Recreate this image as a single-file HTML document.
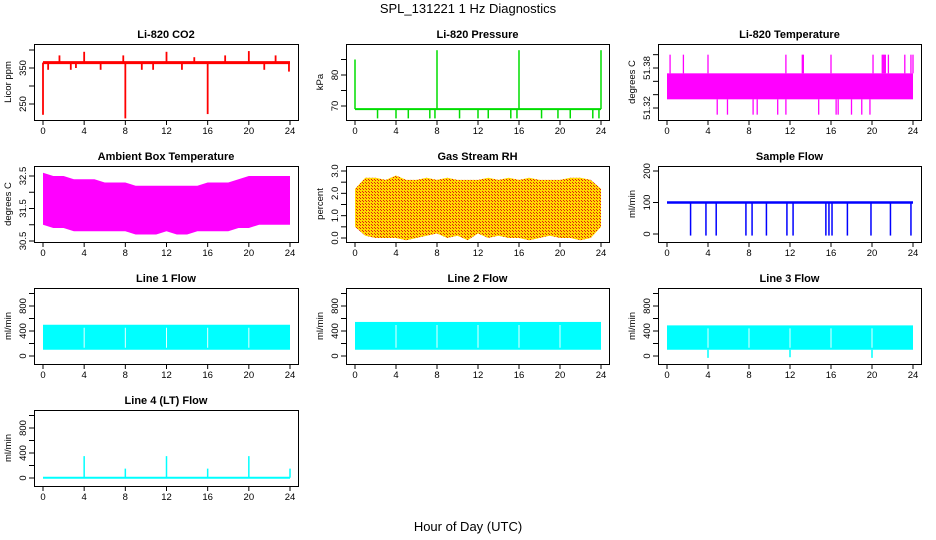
<!DOCTYPE html>
<html><head><meta charset="utf-8"><style>
body{margin:0;background:#fff;}
svg{display:block;font-family:"Liberation Sans",sans-serif;}
</style></head><body>
<svg id="c" width="936" height="540" xmlns="http://www.w3.org/2000/svg">
<defs>
<pattern id="rhpat" width="3" height="3" patternUnits="userSpaceOnUse"><rect width="3" height="3" fill="#ffd800"/><rect width="1" height="1" fill="#e02010"/><rect x="2" y="2" width="1" height="1" fill="#e02010"/></pattern>
</defs>
<text x="468" y="13" text-anchor="middle" font-size="13">SPL_131221  1 Hz Diagnostics</text>
<text x="468" y="531" text-anchor="middle" font-size="13">Hour of Day (UTC)</text>
</svg>
<script>
// ---- data ----
const hours = [0,4,8,12,16,20,24];
const co2Base = 365;
const co2Spikes = [[0,220],[8,210],[16,222],[4,395],[12,395],[20,397],[1.6,385],[0.5,345],[2.7,345],[5.6,345],[9.6,345],[13.5,345],[21.5,345],[23.9,340],[14.7,380],[17.7,385],[22.6,385],[7.8,385],[3.2,350],[10.7,345]];
const presBase = 69;
const presSpikes = [[0,85],[8,88],[16,88],[24,88],[2.2,66],[4,66],[5.2,66],[7.3,66],[7.8,66],[10.2,66],[12,66],[13,66],[15.2,66],[15.8,66],[18.2,66],[19.8,66],[21,66],[23.2,66],[23.8,66]];
const tempBand = [51.333,51.372];
const tempUp = [0.3,1.6,4,11.6,13.2,13.3,16,20.1,21,21.1,21.2,21.3,21.6,23.2,23.8,24];
const tempDown = [4.9,5.9,8.4,8.8,10.8,11.6,14.8,16.5,16.7,18,19,19.8];
const ambHi = [32.6,32.5,32.5,32.4,32.4,32.4,32.3,32.3,32.3,32.2,32.2,32.2,32.2,32.2,32.2,32.2,32.3,32.3,32.3,32.4,32.5,32.5,32.5,32.5,32.5];
const ambLo = [31.0,30.9,30.9,30.8,30.8,30.8,30.8,30.8,30.8,30.7,30.7,30.7,30.8,30.7,30.7,30.8,30.8,30.8,30.8,30.9,30.9,31.0,31.0,31.0,31.0];
const rhHi = [2.2,2.7,2.7,2.6,2.8,2.6,2.6,2.7,2.6,2.7,2.6,2.6,2.6,2.7,2.6,2.7,2.6,2.7,2.6,2.6,2.6,2.7,2.7,2.6,2.2];
const rhLo = [0.5,0.1,0.0,0.0,0.0,-0.1,0.0,0.1,0.2,0.0,0.1,-0.1,0.2,0.0,0.1,0.0,0.0,-0.1,0.0,0.1,0.0,0.0,-0.1,0.0,0.5];
const sfBase = 100;
const sfDips = [2.3,3.8,4.8,7.7,8.3,9.7,11.7,12.3,15.5,15.8,16.1,17.6,19.9,21.8,23.8];
const l1Band = [100,500], l2Band = [100,545], l3Band = [100,490];
const l3Dips = [[4,-30],[12,-20],[20,-30]];
const l4Base = 5;
const l4Spikes = [[4,350],[8,150],[12,350],[16,150],[20,350],[24,150]];

const svg = document.getElementById('c');
const NS = 'http://www.w3.org/2000/svg';
function mk(t, a, p){ const e=document.createElementNS(NS,t); for(const k in a) e.setAttribute(k,a[k]); (p||svg).appendChild(e); return e; }

const cols = [{x0:34,x1:298,h0:43,h24:290},{x0:346,x1:609,h0:355,h24:601},{x0:658,x1:921,h0:667,h24:913}];
const rows = [{y0:44,y1:120},{y0:166,y1:242},{y0:288,y1:364},{y0:410,y1:486}];

function panel(name,title,ci,ri,ylab,v1,p1,v2,p2,ticks,labels){
  const c=cols[ci], r=rows[ri];
  const g=mk('g',{});
  
  
  const X=h=>c.h0+(h/24)*(c.h24-c.h0);
  const Y=v=>p1+(v-v1)*(p2-p1)/(v2-v1);
  const clip=mk('clipPath',{id:'cl'+ci+ri},g); mk('rect',{x:c.x0,y:r.y0,width:c.x1-c.x0,height:r.y1-r.y0},clip);
  const plot=mk('g',{'clip-path':'url(#cl'+ci+ri+')'},g);
  mk('rect',{x:c.x0+.5,y:r.y0+.5,width:c.x1-c.x0,height:r.y1-r.y0,fill:'none',stroke:'#000'},g);
  const t=mk('text',{x:(c.x0+c.x1)/2,y:r.y0-6,'text-anchor':'middle','font-size':11,'font-weight':'bold'},g); t.textContent=title;
  
  
  hours.forEach(h=>{ const x=X(h);
    mk('line',{x1:x,x2:x,y1:r.y1,y2:r.y1+5,stroke:'#000'},g);
    const l=mk('text',{x:x,y:r.y1+14,'text-anchor':'middle','font-size':9.5},g); l.textContent=h;
    
    
  });
  ticks.forEach((v,i)=>{ const y=Y(v);
    mk('line',{x1:c.x0-5,x2:c.x0,y1:y,y2:y,stroke:'#000'},g);
    if(labels[i]){ const l=mk('text',{transform:`translate(${c.x0-8},${y}) rotate(-90)`,'text-anchor':'middle','font-size':9.5},g); l.textContent=labels[i];
      
       }
  });
  const yl=mk('text',{transform:`translate(${c.x0-23},${(r.y0+r.y1)/2}) rotate(-90)`,'text-anchor':'middle','font-size':9.5},g); yl.textContent=ylab;
  
  
  return {X,Y,plot};
}
function vline(p,x,ya,yb,col,w){ mk('line',{x1:x,x2:x,y1:ya,y2:yb,stroke:col,'stroke-width':w||1.2},p); }
function band(P,col,lo,hi){
  let pts=[]; hi.forEach((v,i)=>pts.push(P.X(i*24/(hi.length-1))+','+P.Y(v)));
  for(let i=lo.length-1;i>=0;i--) pts.push(P.X(i*24/(lo.length-1))+','+P.Y(lo[i]));
  mk('polygon',{points:pts.join(' '),fill:col},P.plot);
}

// CO2
let P=panel('panel-co2','Li-820 CO2',0,0,'Licor ppm',350,68,250,104,[250,300,350,400],['250','','350','']);
mk('line',{x1:P.X(0),x2:P.X(24),y1:P.Y(co2Base),y2:P.Y(co2Base),stroke:'red','stroke-width':3},P.plot);
co2Spikes.forEach(s=>vline(P.plot,P.X(s[0]),P.Y(co2Base),P.Y(s[1]),'red',1.8));
// Pressure
P=panel('panel-pressure','Li-820 Pressure',1,0,'kPa',80,75,70,106,[70,75,80,85],['70','','80','']);
mk('line',{x1:P.X(0),x2:P.X(24),y1:P.Y(presBase),y2:P.Y(presBase),stroke:'#00dd00','stroke-width':2},P.plot);
presSpikes.forEach(s=>vline(P.plot,P.X(s[0]),P.Y(presBase),P.Y(s[1]),'#00dd00',1.5));
// Temperature
P=panel('panel-licor-temp','Li-820 Temperature',2,0,'degrees C',51.38,68,51.32,108,[51.40,51.38,51.36,51.34,51.32],['','51.38','','','51.32']);
mk('rect',{x:P.X(0),y:P.Y(tempBand[1]),width:P.X(24)-P.X(0),height:P.Y(tempBand[0])-P.Y(tempBand[1]),fill:'#ff00ff'},P.plot);
tempUp.forEach(h=>vline(P.plot,P.X(h),P.Y(tempBand[1]),P.Y(51.40),'#ff00ff',1.3));
tempDown.forEach(h=>vline(P.plot,P.X(h),P.Y(tempBand[0]),P.Y(51.31),'#ff00ff',1.3));
// Ambient
P=panel('panel-ambient-temp','Ambient Box Temperature',0,1,'degrees C',32.5,176,30.5,241,[30.5,31,31.5,32,32.5],['30.5','','31.5','','32.5']);
band(P,'#ff00ff',ambLo,ambHi);
// RH
P=panel('panel-gas-rh','Gas Stream RH',1,1,'percent',3,171,0,238,[0,0.5,1,1.5,2,2.5,3],['0.0','','1.0','','2.0','','3.0']);
band(P,'url(#rhpat)',rhLo,rhHi);
// Sample flow
P=panel('panel-sample-flow','Sample Flow',2,1,'ml/min',200,171,0,234,[0,100,200],['0','100','200']);
mk('line',{x1:P.X(0),x2:P.X(24),y1:P.Y(sfBase),y2:P.Y(sfBase),stroke:'blue','stroke-width':2.5},P.plot);
sfDips.forEach(h=>vline(P.plot,P.X(h),P.Y(sfBase),P.Y(-5),'blue',1.5));
// Line flows
const lt=[0,200,400,600,800,1000], ll=['0','','400','','800',''];
[[0,'panel-line1-flow','Line 1 Flow',l1Band],[1,'panel-line2-flow','Line 2 Flow',l2Band],[2,'panel-line3-flow','Line 3 Flow',l3Band]].forEach(d=>{
  const Q=panel(d[1],d[2],d[0],2,'ml/min',0,356,800,306,lt,ll);
  mk('rect',{x:Q.X(0),y:Q.Y(d[3][1]),width:Q.X(24)-Q.X(0),height:Q.Y(d[3][0])-Q.Y(d[3][1]),fill:'cyan'},Q.plot);
  hours.slice(1,6).forEach(h=>vline(Q.plot,Q.X(h),Q.Y(d[3][1])+3,Q.Y(d[3][0])-2,'#e8ffff',1));
  if(d[0]==2) l3Dips.forEach(s=>vline(Q.plot,Q.X(s[0]),Q.Y(d[3][0]),Q.Y(s[1]),'cyan',1.5));
});
// Line 4
P=panel('panel-line4-flow','Line 4 (LT) Flow',0,3,'ml/min',0,478,800,428,lt,ll);
mk('line',{x1:P.X(0),x2:P.X(24),y1:P.Y(l4Base),y2:P.Y(l4Base),stroke:'cyan','stroke-width':2},P.plot);
l4Spikes.forEach(s=>vline(P.plot,P.X(s[0]),P.Y(l4Base),P.Y(s[1]),'cyan',1.5));
</script>
</body></html>
